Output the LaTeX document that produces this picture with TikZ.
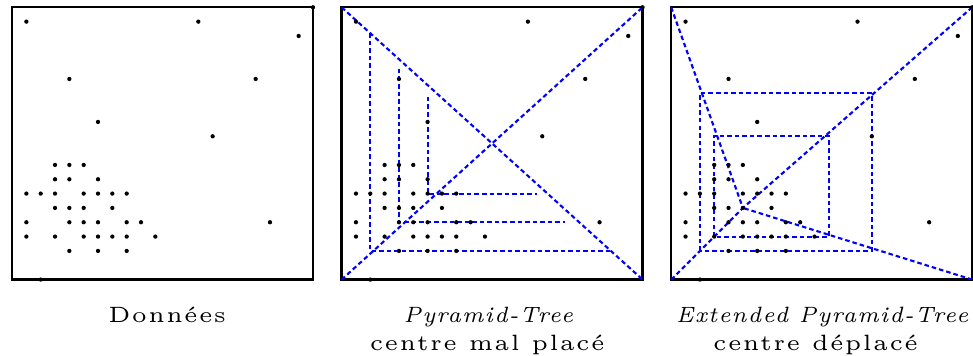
\documentclass[tikz,border=0pt]{standalone}
\usepackage{fontspec}
\newfontfamily\capfont{lmroman5-regular}[Extension=.otf,
  ItalicFont=lmroman7-italic, LetterSpace=6]
\begin{document}
\begin{tikzpicture}[x=0.5cm, y=0.5cm,
  frame/.style={line width=2.3pt},
  pyr/.style={blue, line width=2.1pt, dash pattern=on 4.5pt off 3pt},
  lbl/.style={scale=4.4, anchor=base, inner sep=0pt, font=\capfont\fontsize{5}{6}\selectfont}]

  \useasboundingbox (-0.84,-5.3) rectangle (67.06,19.51);

  \def\dw{21}
  \def\dh{19}
  \def\pts{1/18,13/18,21/19,20/17,4/14,17/14,6/11,14/10,
    3/8,4/8,5/8,3/7,4/7,6/7,1/6,2/6,3/6,5/6,6/6,7/6,8/6,
    3/5,4/5,5/5,7/5,1/4,4/4,5/4,6/4,8/4,9/4,18/4,
    1/3,3/3,5/3,6/3,7/3,8/3,10/3,4/2,6/2,8/2,2/0}

  % frames
  \foreach \p in {0,23,46}
  \draw[frame] (\p,0) rectangle (\p+\dw,\dh);

  % pyramid-tree, centre in the middle
  \begin{scope}[shift={(23,0)}]
  \draw[pyr] (0,0) -- (\dw,\dh);
  \draw[pyr] (0,\dh) -- (\dw,0);
  \draw[pyr] (2,17.19) -- (2,2) -- (18.79,2);
  \draw[pyr] (4,14.7) -- (4,4) -- (15.6,4);
  \draw[pyr] (6,12.75) -- (6,6) -- (13.65,6);
  \end{scope}

  % extended pyramid-tree, centre moved
  \begin{scope}[shift={(46,0)}]
  \coordinate (ctr) at (5,5);
  \foreach \cx/\cy in {0/0,0/\dh,\dw/\dh,\dw/0}
  \draw[pyr] (\cx,\cy) -- (ctr);
  \draw[pyr] (2,2) rectangle (14,13);
  \draw[pyr] (3,3) rectangle (11,10);
  \end{scope}

  % points
  \foreach \p in {0,23,46}
  \foreach \x/\y in \pts
  \fill (\p+\x,\y) circle (0.075cm);

  % captions
  \node[lbl] (donnees) at (10.83,-2.97) {Données};
  \node[lbl] (pt) at (33.24,-2.97) {\itshape Pyramid-Tree};
  \node[lbl] (ptc) at (33.16,-4.95) {centre mal placé};
  \node[lbl] (ept) at (56.54,-2.97) {\itshape Extended Pyramid-Tree};
  \node[lbl] (eptc) at (56.07,-4.95) {centre déplacé};
\end{tikzpicture}
\end{document}
